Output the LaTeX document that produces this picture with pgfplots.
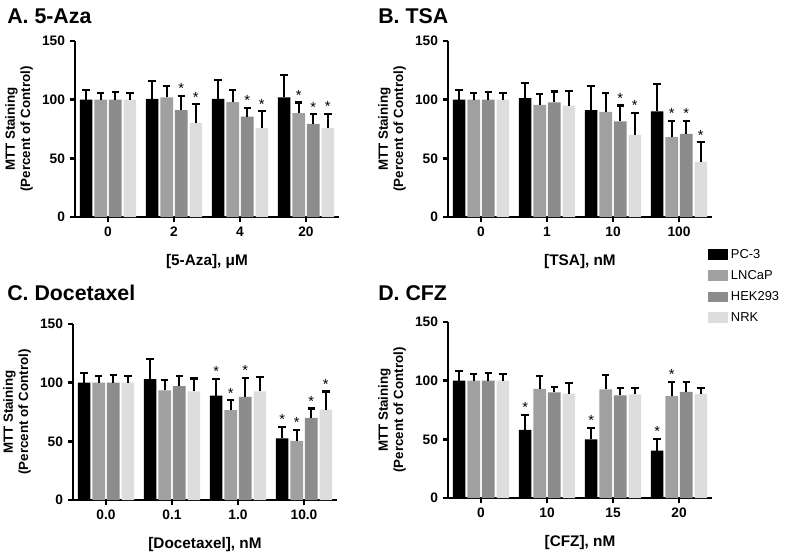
\documentclass[border=0pt]{standalone}
\usepackage{pgfplots}
\pgfplotsset{compat=1.18}
\usepackage{pgfplotstable}
\usepackage{fontspec}
\setmainfont{Liberation Sans}

\definecolor{cPC}{HTML}{000000}
\definecolor{cLN}{HTML}{A0A0A0}
\definecolor{cHE}{HTML}{8C8C8C}
\definecolor{cNR}{HTML}{DDDDDD}

% columns: group, value, error (SEM, upward only), star flag
\pgfplotstableread{
g p pe ps l le ls h he hs n ne ns
0 100 8 0 100 5.7 0 100 6.6 0 100 5.7 0
1 100.6 15.4 0 102 10 0 91 12 1 80 16 1
2 100.6 16 0 98 10 0 85.5 7.5 1 76 14 1
3 102 19 0 88.6 9 1 79.3 8.2 1 75.9 12 1
}\tabA
\pgfplotstableread{
g p pe ps l le ls h he hs n ne ns
0 100 8 0 100 5.7 0 100 6.6 0 100 5.7 0
1 101.4 12.6 0 95.5 9.5 0 97.7 9.3 0 95 12.7 0
2 91 20.7 0 89.5 16.5 0 81.5 13.5 1 70 18.6 1
3 90 23.4 0 68 14 1 70.8 11 1 47 16.6 1
}\tabB
\pgfplotstableread{
g p pe ps l le ls h he hs n ne ns
0 100 8 0 100 5.7 0 100 6.6 0 100 5.7 0
1 103 17 0 93.5 8.5 0 97 9 0 92.5 11 0
2 89 14 1 76.5 8.5 1 88 16 1 92.5 12 0
3 52.5 9.5 1 50.5 9.5 1 70 8 1 77 15.5 1
}\tabC
\pgfplotstableread{
g p pe ps l le ls h he hs n ne ns
0 100 8 0 100 5.7 0 100 6.6 0 100 5.7 0
1 58 13 1 93 11 0 90 4.6 0 89 8.7 0
2 50 9.5 1 92.6 12.4 0 87.5 6.5 0 88.4 5.6 0
3 40.4 10 1 86.8 12 1 90.5 8 0 88.5 5 0
}\tabD

\pgfplotsset{
  panel/.style={
    width=198pt, height=132pt, scale only axis, anchor=south west,
    axis lines=left, axis line style={line width=1.8pt,-},
    xmin=-0.5, xmax=3.5, ymin=0, ymax=150,
    xtick={0,1,2,3}, ytick={0,50,100,150},
    tick align=outside, major tick length=4pt,
    every tick/.style={line width=1.8pt,black},
    tick label style={font=\bfseries\fontsize{10.3}{12}\selectfont},
    /pgf/number format/assume math mode=true,
    ylabel={MTT Staining\\(Percent of Control)},
    ylabel style={align=center,font=\bfseries\fontsize{10}{11.5}\selectfont},
    xlabel style={font=\bfseries\fontsize{11.5}{13}\selectfont, yshift=-6pt},
    clip=false,
  },
  ser/.style n args={2}{
    ybar, bar width=0.19, bar shift=0, fill=#1, draw=none,
    point meta=explicit symbolic,
    visualization depends on={\thisrow{#2e}\as\err},
    nodes near coords={\ifnum\pgfplotspointmeta>0 *\fi},
    every node near coord/.append style={anchor=south, inner sep=1.5pt,
      font=\fontsize{11}{12}\selectfont, yshift={\err*0.88pt}},
    error bars/y dir=plus, error bars/y explicit,
    error bars/error mark=|,
    error bars/error bar style={line width=1.6pt,black},
    error bars/error mark options={line width=1.6pt,black,mark size=2.8pt},
  },
}
\newcommand\fourbars[1]{%
  \addplot[ser={cPC}{p}] table[x expr=\thisrow{g}-0.33,y=p,y error=pe,meta=ps]{#1};
  \addplot[ser={cLN}{l}] table[x expr=\thisrow{g}-0.11,y=l,y error=le,meta=ls]{#1};
  \addplot[ser={cHE}{h}] table[x expr=\thisrow{g}+0.11,y=h,y error=he,meta=hs]{#1};
  \addplot[ser={cNR}{n}] table[x expr=\thisrow{g}+0.33,y=n,y error=ne,meta=ns]{#1};
}

\begin{document}
\begin{tikzpicture}
\path[use as bounding box] (0pt,0pt) rectangle (600pt,-414.75pt);

\begin{axis}[panel, at={(56.25pt,-162.75pt)}, xticklabels={0,2,4,20}, xlabel={[5-Aza], μM}]
\fourbars{\tabA}
\end{axis}

\begin{axis}[panel, at={(336pt,-162.75pt)}, xticklabels={0,1,10,100}, xlabel={[TSA], nM}]
\fourbars{\tabB}
\end{axis}

\begin{axis}[panel, at={(54.75pt,-375pt)}, xticklabels={0.0,0.1,1.0,10.0}, xlabel={[Docetaxel], nM}]
\fourbars{\tabC}
\end{axis}

\begin{axis}[panel, at={(336pt,-373.5pt)}, xticklabels={0,10,15,20}, xlabel={[CFZ], nM},
  legend image code/.code={\fill[#1] (0pt,-4pt) rectangle (15pt,4pt);},
  legend style={at={(axis description cs:0.985,1.43)}, anchor=north west,
    draw=none, fill=none, inner sep=0pt, row sep=3.5pt,
    font=\fontsize{9.7}{11}\selectfont,
    /tikz/every even column/.append style={column sep=7pt}},
  legend cell align=left]
\fourbars{\tabD}
\addlegendimage{fill=cPC}\addlegendentry{PC-3}
\addlegendimage{fill=cLN}\addlegendentry{LNCaP}
\addlegendimage{fill=cHE}\addlegendentry{HEK293}
\addlegendimage{fill=cNR}\addlegendentry{NRK}
\end{axis}

\node[anchor=base west, inner sep=0pt, font=\bfseries\fontsize{16}{19}\selectfont] at (5.25pt,-17.25pt) {A. 5-Aza};
\node[anchor=base west, inner sep=0pt, font=\bfseries\fontsize{16}{19}\selectfont] at (283.5pt,-17.25pt) {B. TSA};
\node[anchor=base west, inner sep=0pt, font=\bfseries\fontsize{16}{19}\selectfont] at (5.25pt,-225pt) {C. Docetaxel};
\node[anchor=base west, inner sep=0pt, font=\bfseries\fontsize{16}{19}\selectfont] at (283.5pt,-225pt) {D. CFZ};
\end{tikzpicture}
\end{document}
